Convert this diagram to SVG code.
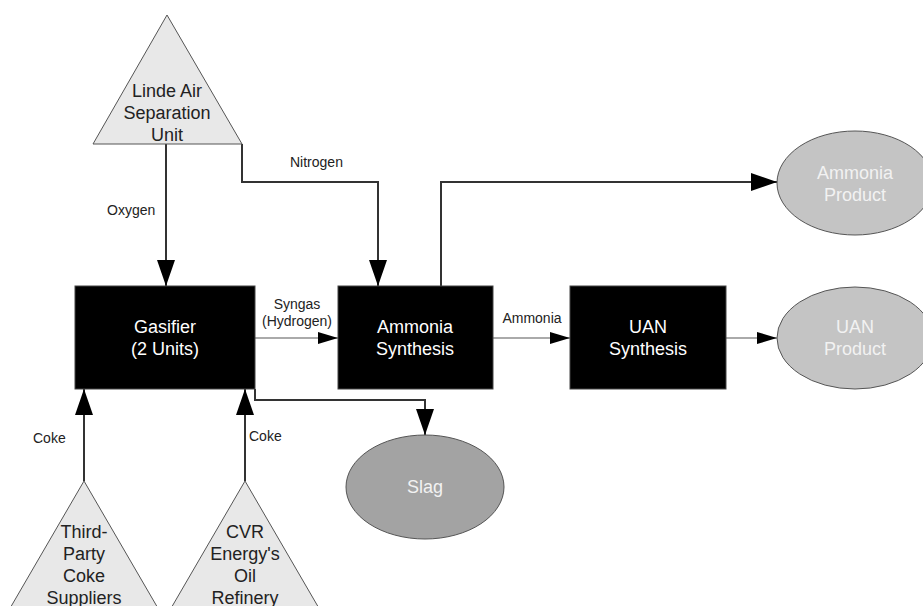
<svg xmlns="http://www.w3.org/2000/svg" width="923" height="606" viewBox="0 0 923 606">
<style>
.tri{fill:#e8e8e8;stroke:#555;stroke-width:1}
.box{fill:#000;stroke:#444;stroke-width:1}
.ell{fill:#c4c4c4;stroke:#555;stroke-width:1}
.slag{fill:#a3a3a3;stroke:#555;stroke-width:1}
.t{font-family:"Liberation Sans",Arial,sans-serif;font-size:18px;text-anchor:middle}
.dk{fill:#222}
.wt{fill:#fff}
.lt{fill:#f2f2f2}
.lbl{font-family:"Liberation Sans",Arial,sans-serif;font-size:14px;fill:#222}
.c{fill:none;stroke:#333;stroke-width:2}
.g{fill:none;stroke:#aaa;stroke-width:2}
.big{marker-end:url(#ab)}
.sm{marker-end:url(#as)}
</style>
<defs>
<marker id="ab" markerUnits="userSpaceOnUse" markerWidth="26" markerHeight="18" refX="26" refY="9" orient="auto">
<path d="M0,0 L26,9 L0,18 Z" fill="#000"/>
</marker>
<marker id="as" markerUnits="userSpaceOnUse" markerWidth="20" markerHeight="12" refX="20" refY="6" orient="auto">
<path d="M0,0 L20,6 L0,12 Z" fill="#000"/>
</marker>
</defs>
<rect width="923" height="606" fill="#fff"/>
<g id="connectors">
<path class="c big" d="M166,144 L166,286"/>
<path class="c big" d="M242,144 L242,182 L378,182 L378,286"/>
<path class="g sm" d="M255,338 L338,338"/>
<path class="c big" d="M441,286 L441,182 L777,182"/>
<path class="g sm" d="M493,338 L570,338"/>
<path class="g sm" d="M726,338 L777,338"/>
<path class="c big" d="M255,389 L255,400 L425,400 L425,435"/>
<path class="c big" d="M84,481 L84,389"/>
<path class="c big" d="M245,481 L245,389"/>
<text class="lbl" x="107" y="215">Oxygen</text>
<text class="lbl" x="290" y="167">Nitrogen</text>
<text class="lbl" x="297" y="309" text-anchor="middle">Syngas</text>
<text class="lbl" x="297" y="326" text-anchor="middle">(Hydrogen)</text>
<text class="lbl" x="532" y="323" text-anchor="middle">Ammonia</text>
<text class="lbl" x="33" y="443">Coke</text>
<text class="lbl" x="249" y="441">Coke</text>
</g>
<g id="linde">
<polygon class="tri" points="167,15 93,144 242,144"/>
<text class="t dk" x="167" y="97">Linde Air</text>
<text class="t dk" x="167" y="119">Separation</text>
<text class="t dk" x="167" y="141">Unit</text>
</g>
<g id="gasifier">
<rect class="box" x="75" y="286" width="180" height="103"/>
<text class="t wt" x="165" y="333">Gasifier</text>
<text class="t wt" x="165" y="355">(2 Units)</text>
</g>
<g id="ammonia-synthesis">
<rect class="box" x="338" y="286" width="155" height="103"/>
<text class="t wt" x="415" y="333">Ammonia</text>
<text class="t wt" x="415" y="355">Synthesis</text>
</g>
<g id="uan-synthesis">
<rect class="box" x="570" y="286" width="156" height="103"/>
<text class="t wt" x="648" y="333">UAN</text>
<text class="t wt" x="648" y="355">Synthesis</text>
</g>
<g id="ammonia-product">
<ellipse class="ell" cx="855" cy="183" rx="78" ry="52"/>
<text class="t lt" x="855" y="179">Ammonia</text>
<text class="t lt" x="855" y="201">Product</text>
</g>
<g id="uan-product">
<ellipse class="ell" cx="855" cy="338" rx="78" ry="51"/>
<text class="t lt" x="855" y="333">UAN</text>
<text class="t lt" x="855" y="355">Product</text>
</g>
<g id="slag">
<ellipse class="slag" cx="425" cy="487" rx="79" ry="52"/>
<text class="t lt" x="425" y="493">Slag</text>
</g>
<g id="third-party">
<polygon class="tri" points="84,481 9,610 159,610"/>
<text class="t dk" x="84" y="538">Third-</text>
<text class="t dk" x="84" y="560">Party</text>
<text class="t dk" x="84" y="582">Coke</text>
<text class="t dk" x="84" y="604">Suppliers</text>
</g>
<g id="cvr">
<polygon class="tri" points="245,481 170,610 320,610"/>
<text class="t dk" x="245" y="538">CVR</text>
<text class="t dk" x="245" y="560">Energy's</text>
<text class="t dk" x="245" y="582">Oil</text>
<text class="t dk" x="245" y="604">Refinery</text>
</g>
</svg>
